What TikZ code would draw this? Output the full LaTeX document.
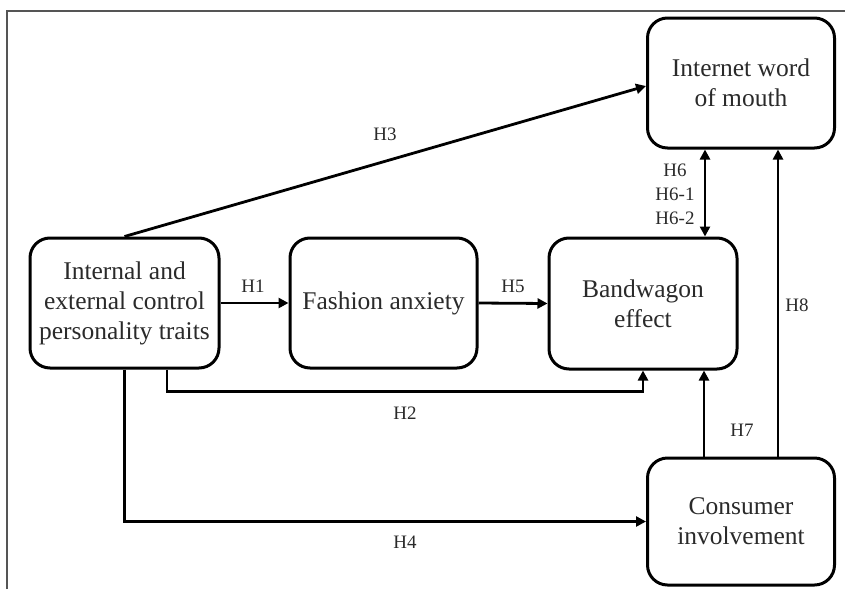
\documentclass[tikz,border=0pt]{standalone}
\usepackage{fontspec}
\setmainfont{Liberation Serif}
\usetikzlibrary{arrows.meta}
\definecolor{txt}{HTML}{2a2a2a}
\definecolor{frame}{HTML}{555555}
\tikzset{
  box/.style={draw=black, line width=3pt, rounded corners=20pt, align=center,
    text=txt, font=\fontsize{25.5}{30}\selectfont, inner sep=0pt},
  conn/.style={line width=2.8pt, -{Triangle[length=10pt,width=10pt]}},
  dconn/.style={line width=2.8pt, {Triangle[length=10pt,width=10pt]}-{Triangle[length=10pt,width=10pt]}},
  lab/.style={text=txt, font=\fontsize{19}{24}\selectfont, align=center, inner sep=0pt}
}
\begin{document}
\begin{tikzpicture}[x=1pt,y=-1pt]
\useasboundingbox (0,0) rectangle (845,589);
\draw[frame, line width=2pt] (7,589) -- (7,11) -- (845,11);

\node[box, minimum width=189pt, minimum height=130pt] (int) at (124.5,303) {Internal and\\external control\\personality traits};
\node[box, minimum width=187pt, minimum height=130pt] (fa) at (383.5,303) {Fashion anxiety};
\node[box, minimum width=188pt, minimum height=131pt] (bw) at (643,303.5) {Bandwagon\\effect};
\node[box, minimum width=187pt, minimum height=130pt] (iwm) at (741,83) {Internet word\\of mouth};
\node[box, minimum width=187pt, minimum height=127pt] (ci) at (741,521.5) {Consumer\\involvement};

\draw[conn] (int.east) -- (fa.west);
\draw[conn] (fa.east) -- (bw.west);
\draw[conn] (int.north) -- ([yshift=-3pt]iwm.west);
\draw[conn] ([xshift=42.5pt]int.south) -- ++(0,-22pt) -| (bw.south);
\draw[conn] (int.south) |- (ci.west);
\coordinate (h7) at ([xshift=-37pt]ci.north);
\coordinate (h8) at ([xshift=37pt]ci.north);
\coordinate (h6) at ([xshift=-36pt]iwm.south);
\draw[conn] (h7) -- (h7 |- bw.south);
\draw[conn] (h8) -- (h8 |- iwm.south);
\draw[dconn] (h6) -- (h6 |- bw.north);

\node[lab] (l1) at (253,286) {H1};
\node[lab] (l5) at (513,286) {H5};
\node[lab] (l3) at (385,134) {H3};
\node[lab] (l2) at (405,413) {H2};
\node[lab] (l4) at (405,542) {H4};
\node[lab] (l7) at (742,430) {H7};
\node[lab] (l8) at (797,305) {H8};
\node[lab] (l6) at (675,194) {H6\\H6-1\\H6-2};
\end{tikzpicture}
\end{document}
